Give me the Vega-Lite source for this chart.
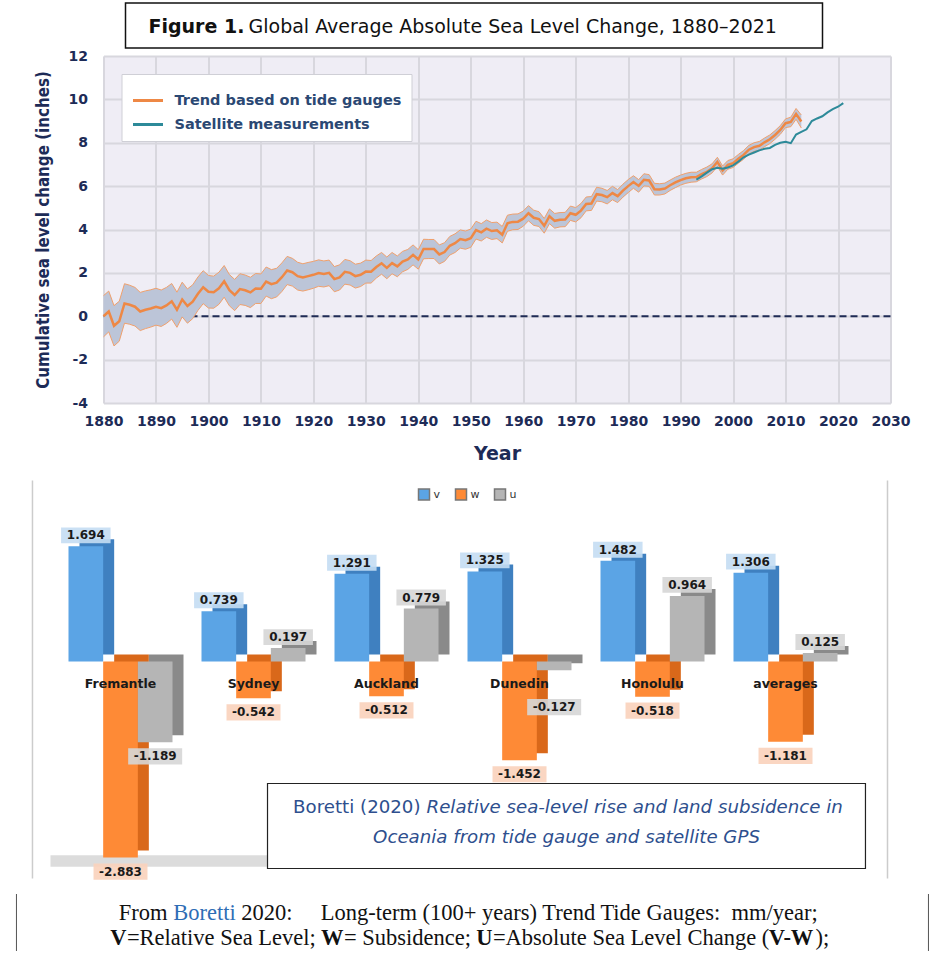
{
  "$schema": "https://vega.github.io/schema/vega-lite/v6.json",
  "padding": {"left": 15.5, "top": 2, "right": 0, "bottom": 0},
  "background": "white",
  "config": {"view": {"stroke": null}, "axis": {"domain": false, "ticks": false}},
  "datasets": {
    "tide": [
      {"year":1880,"value":0,"lower":-0.95,"upper":0.95},
      {"year":1881,"value":0.22,"lower":-0.72,"upper":1.16},
      {"year":1882,"value":-0.44,"lower":-1.37,"upper":0.49},
      {"year":1883,"value":-0.23,"lower":-1.15,"upper":0.69},
      {"year":1884,"value":0.59,"lower":-0.32,"upper":1.5},
      {"year":1885,"value":0.53,"lower":-0.37,"upper":1.43},
      {"year":1886,"value":0.44,"lower":-0.45,"upper":1.33},
      {"year":1887,"value":0.22,"lower":-0.66,"upper":1.1},
      {"year":1888,"value":0.3,"lower":-0.57,"upper":1.17},
      {"year":1889,"value":0.36,"lower":-0.5,"upper":1.22},
      {"year":1890,"value":0.44,"lower":-0.41,"upper":1.29},
      {"year":1891,"value":0.37,"lower":-0.47,"upper":1.21},
      {"year":1892,"value":0.5,"lower":-0.33,"upper":1.33},
      {"year":1893,"value":0.69,"lower":-0.13,"upper":1.51},
      {"year":1894,"value":0.3,"lower":-0.51,"upper":1.11},
      {"year":1895,"value":0.77,"lower":-0.03,"upper":1.57},
      {"year":1896,"value":0.47,"lower":-0.32,"upper":1.26},
      {"year":1897,"value":0.67,"lower":-0.11,"upper":1.45},
      {"year":1898,"value":1.04,"lower":0.27,"upper":1.81},
      {"year":1899,"value":1.34,"lower":0.58,"upper":2.1},
      {"year":1900,"value":1.13,"lower":0.38,"upper":1.88},
      {"year":1901,"value":1.11,"lower":0.37,"upper":1.85},
      {"year":1902,"value":1.29,"lower":0.55,"upper":2.03},
      {"year":1903,"value":1.61,"lower":0.88,"upper":2.34},
      {"year":1904,"value":1.2,"lower":0.48,"upper":1.92},
      {"year":1905,"value":0.98,"lower":0.26,"upper":1.7},
      {"year":1906,"value":1.25,"lower":0.54,"upper":1.96},
      {"year":1907,"value":1.2,"lower":0.5,"upper":1.9},
      {"year":1908,"value":1.1,"lower":0.4,"upper":1.8},
      {"year":1909,"value":1.28,"lower":0.59,"upper":1.97},
      {"year":1910,"value":1.27,"lower":0.59,"upper":1.95},
      {"year":1911,"value":1.6,"lower":0.93,"upper":2.27},
      {"year":1912,"value":1.48,"lower":0.81,"upper":2.15},
      {"year":1913,"value":1.55,"lower":0.89,"upper":2.21},
      {"year":1914,"value":1.8,"lower":1.14,"upper":2.46},
      {"year":1915,"value":2.11,"lower":1.46,"upper":2.76},
      {"year":1916,"value":2.03,"lower":1.39,"upper":2.67},
      {"year":1917,"value":1.85,"lower":1.21,"upper":2.49},
      {"year":1918,"value":1.79,"lower":1.16,"upper":2.42},
      {"year":1919,"value":1.85,"lower":1.22,"upper":2.48},
      {"year":1920,"value":1.91,"lower":1.29,"upper":2.53},
      {"year":1921,"value":1.99,"lower":1.38,"upper":2.6},
      {"year":1922,"value":1.95,"lower":1.35,"upper":2.55},
      {"year":1923,"value":2.0,"lower":1.41,"upper":2.59},
      {"year":1924,"value":1.71,"lower":1.13,"upper":2.29},
      {"year":1925,"value":1.79,"lower":1.21,"upper":2.37},
      {"year":1926,"value":2.05,"lower":1.48,"upper":2.62},
      {"year":1927,"value":2.0,"lower":1.44,"upper":2.56},
      {"year":1928,"value":1.85,"lower":1.3,"upper":2.4},
      {"year":1929,"value":1.91,"lower":1.37,"upper":2.45},
      {"year":1930,"value":2.06,"lower":1.53,"upper":2.59},
      {"year":1931,"value":2.05,"lower":1.53,"upper":2.57},
      {"year":1932,"value":2.27,"lower":1.76,"upper":2.78},
      {"year":1933,"value":2.44,"lower":1.94,"upper":2.94},
      {"year":1934,"value":2.23,"lower":1.73,"upper":2.73},
      {"year":1935,"value":2.45,"lower":1.96,"upper":2.94},
      {"year":1936,"value":2.3,"lower":1.82,"upper":2.78},
      {"year":1937,"value":2.52,"lower":2.05,"upper":2.99},
      {"year":1938,"value":2.62,"lower":2.16,"upper":3.08},
      {"year":1939,"value":2.83,"lower":2.37,"upper":3.29},
      {"year":1940,"value":2.62,"lower":2.17,"upper":3.07},
      {"year":1941,"value":3.1,"lower":2.65,"upper":3.55},
      {"year":1942,"value":3.1,"lower":2.66,"upper":3.54},
      {"year":1943,"value":3.1,"lower":2.66,"upper":3.54},
      {"year":1944,"value":2.85,"lower":2.41,"upper":3.29},
      {"year":1945,"value":2.96,"lower":2.53,"upper":3.39},
      {"year":1946,"value":3.25,"lower":2.82,"upper":3.68},
      {"year":1947,"value":3.37,"lower":2.94,"upper":3.8},
      {"year":1948,"value":3.56,"lower":3.14,"upper":3.98},
      {"year":1949,"value":3.51,"lower":3.09,"upper":3.93},
      {"year":1950,"value":3.6,"lower":3.18,"upper":4.02},
      {"year":1951,"value":3.97,"lower":3.56,"upper":4.38},
      {"year":1952,"value":3.87,"lower":3.47,"upper":4.27},
      {"year":1953,"value":4.04,"lower":3.64,"upper":4.44},
      {"year":1954,"value":3.93,"lower":3.54,"upper":4.32},
      {"year":1955,"value":3.96,"lower":3.58,"upper":4.34},
      {"year":1956,"value":3.76,"lower":3.38,"upper":4.14},
      {"year":1957,"value":4.29,"lower":3.92,"upper":4.66},
      {"year":1958,"value":4.35,"lower":3.99,"upper":4.71},
      {"year":1959,"value":4.36,"lower":4.0,"upper":4.72},
      {"year":1960,"value":4.5,"lower":4.15,"upper":4.85},
      {"year":1961,"value":4.75,"lower":4.4,"upper":5.1},
      {"year":1962,"value":4.54,"lower":4.19,"upper":4.89},
      {"year":1963,"value":4.48,"lower":4.14,"upper":4.82},
      {"year":1964,"value":4.17,"lower":3.83,"upper":4.51},
      {"year":1965,"value":4.61,"lower":4.27,"upper":4.95},
      {"year":1966,"value":4.4,"lower":4.06,"upper":4.74},
      {"year":1967,"value":4.45,"lower":4.12,"upper":4.78},
      {"year":1968,"value":4.46,"lower":4.13,"upper":4.79},
      {"year":1969,"value":4.75,"lower":4.42,"upper":5.08},
      {"year":1970,"value":4.68,"lower":4.35,"upper":5.01},
      {"year":1971,"value":4.87,"lower":4.54,"upper":5.2},
      {"year":1972,"value":5.18,"lower":4.86,"upper":5.5},
      {"year":1973,"value":5.2,"lower":4.88,"upper":5.52},
      {"year":1974,"value":5.63,"lower":5.31,"upper":5.95},
      {"year":1975,"value":5.59,"lower":5.28,"upper":5.9},
      {"year":1976,"value":5.49,"lower":5.18,"upper":5.8},
      {"year":1977,"value":5.68,"lower":5.37,"upper":5.99},
      {"year":1978,"value":5.54,"lower":5.24,"upper":5.84},
      {"year":1979,"value":5.79,"lower":5.49,"upper":6.09},
      {"year":1980,"value":6.0,"lower":5.7,"upper":6.3},
      {"year":1981,"value":6.19,"lower":5.9,"upper":6.48},
      {"year":1982,"value":6.01,"lower":5.72,"upper":6.3},
      {"year":1983,"value":6.29,"lower":6.01,"upper":6.57},
      {"year":1984,"value":6.26,"lower":5.99,"upper":6.53},
      {"year":1985,"value":5.86,"lower":5.59,"upper":6.13},
      {"year":1986,"value":5.85,"lower":5.59,"upper":6.11},
      {"year":1987,"value":5.89,"lower":5.64,"upper":6.14},
      {"year":1988,"value":6.04,"lower":5.8,"upper":6.28},
      {"year":1989,"value":6.17,"lower":5.93,"upper":6.41},
      {"year":1990,"value":6.28,"lower":6.05,"upper":6.51},
      {"year":1991,"value":6.36,"lower":6.13,"upper":6.59},
      {"year":1992,"value":6.41,"lower":6.18,"upper":6.64},
      {"year":1993,"value":6.42,"lower":6.2,"upper":6.64},
      {"year":1994,"value":6.55,"lower":6.33,"upper":6.77},
      {"year":1995,"value":6.66,"lower":6.44,"upper":6.88},
      {"year":1996,"value":6.82,"lower":6.61,"upper":7.03},
      {"year":1997,"value":7.12,"lower":6.91,"upper":7.33},
      {"year":1998,"value":6.72,"lower":6.51,"upper":6.93},
      {"year":1999,"value":6.98,"lower":6.78,"upper":7.18},
      {"year":2000,"value":7.06,"lower":6.86,"upper":7.26},
      {"year":2001,"value":7.26,"lower":7.06,"upper":7.46},
      {"year":2002,"value":7.44,"lower":7.24,"upper":7.64},
      {"year":2003,"value":7.68,"lower":7.48,"upper":7.88},
      {"year":2004,"value":7.8,"lower":7.6,"upper":8.0},
      {"year":2005,"value":7.86,"lower":7.66,"upper":8.06},
      {"year":2006,"value":8.02,"lower":7.82,"upper":8.22},
      {"year":2007,"value":8.16,"lower":7.96,"upper":8.36},
      {"year":2008,"value":8.36,"lower":8.16,"upper":8.56},
      {"year":2009,"value":8.59,"lower":8.39,"upper":8.79},
      {"year":2010,"value":8.9,"lower":8.7,"upper":9.1},
      {"year":2011,"value":8.96,"lower":8.74,"upper":9.18},
      {"year":2012,"value":9.33,"lower":9.08,"upper":9.58},
      {"year":2013,"value":8.98,"lower":8.68,"upper":9.28}
    ],
    "sat": [
      {"year":1993,"value":6.3},{"year":1994,"value":6.45},{"year":1995,"value":6.62},
      {"year":1996,"value":6.78},{"year":1997,"value":6.85},{"year":1998,"value":6.8},
      {"year":1999,"value":6.86},{"year":2000,"value":6.96},{"year":2001,"value":7.13},
      {"year":2002,"value":7.33},{"year":2003,"value":7.45},{"year":2004,"value":7.55},
      {"year":2005,"value":7.65},{"year":2006,"value":7.72},{"year":2007,"value":7.76},
      {"year":2008,"value":7.9},{"year":2009,"value":8.0},{"year":2010,"value":8.05},
      {"year":2011,"value":7.98},{"year":2012,"value":8.38},{"year":2013,"value":8.5},
      {"year":2014,"value":8.62},{"year":2015,"value":9.0},{"year":2016,"value":9.12},
      {"year":2017,"value":9.22},{"year":2018,"value":9.4},{"year":2019,"value":9.55},
      {"year":2020,"value":9.66},{"year":2021,"value":9.83}
    ],
    "bars": [
      {"city":"Fremantle","series":"v","value":1.694},
      {"city":"Fremantle","series":"w","value":-2.883},
      {"city":"Fremantle","series":"u","value":-1.189},
      {"city":"Sydney","series":"v","value":0.739},
      {"city":"Sydney","series":"w","value":-0.542},
      {"city":"Sydney","series":"u","value":0.197},
      {"city":"Auckland","series":"v","value":1.291},
      {"city":"Auckland","series":"w","value":-0.512},
      {"city":"Auckland","series":"u","value":0.779},
      {"city":"Dunedin","series":"v","value":1.325},
      {"city":"Dunedin","series":"w","value":-1.452},
      {"city":"Dunedin","series":"u","value":-0.127},
      {"city":"Honolulu","series":"v","value":1.482},
      {"city":"Honolulu","series":"w","value":-0.518},
      {"city":"Honolulu","series":"u","value":0.964},
      {"city":"averages","series":"v","value":1.306},
      {"city":"averages","series":"w","value":-1.181},
      {"city":"averages","series":"u","value":0.125}
    ]
  },
  "resolve": {"scale": {"color": "independent", "fill": "independent"}, "legend": {"color": "independent"}},
  "align": "each",
  "center": false,
  "spacing": 0,
  "vconcat": [
    {
      "width": 719,
      "height": 45,
      "data": {"values": [{}]},
      "layer": [
        {
          "mark": {"type": "rect", "fill": "white", "stroke": "#111111", "strokeWidth": 1.5},
          "encoding": {
            "x": {"datum": 0.0306, "type": "quantitative", "scale": {"domain": [0, 1]}, "axis": null},
            "x2": {"datum": 1},
            "y": {"datum": 0, "type": "quantitative", "scale": {"domain": [0, 1]}, "axis": null},
            "y2": {"datum": 1}
          }
        },
        {"mark": {"type": "text", "text": "Figure 1.", "align": "left", "baseline": "middle", "dx": -314.5, "dy": 1.5, "font": "DejaVu Sans", "fontWeight": "bold", "fontSize": 19, "color": "#111111"}},
        {"mark": {"type": "text", "text": "Global Average Absolute Sea Level Change, 1880–2021", "align": "left", "baseline": "middle", "dx": -214.5, "dy": 1.5, "font": "DejaVu Sans", "fontSize": 19, "color": "#111111"}}
      ]
    },
    {
      "width": 787,
      "height": 347,
      "view": {"fill": "#efedf5", "stroke": null},
      "layer": [
        {
          "data": {"values": [{}]},
          "mark": {"type": "rule", "color": "#1f2b55", "strokeWidth": 2, "strokeDash": [7, 4]},
          "encoding": {"y": {"datum": 0, "type": "quantitative", "scale": {"domain": [-4, 12], "nice": false}}}
        },
        {
          "data": {"name": "tide"},
          "mark": {"type": "area", "color": "#bcc5d8"},
          "encoding": {
            "x": {"field": "year", "type": "quantitative", "title": "Year",
              "scale": {"domain": [1880, 2030], "nice": false, "zero": false},
              "axis": {"values": [1880,1890,1900,1910,1920,1930,1940,1950,1960,1970,1980,1990,2000,2010,2020,2030], "format": "d", "grid": true, "gridColor": "#d8d7de", "gridWidth": 2, "labelFont": "DejaVu Sans", "labelFontWeight": "bold", "labelFontSize": 14, "labelColor": "#1d2b57", "labelPadding": 11, "labelFlush": false, "titleFont": "DejaVu Sans", "titleFontWeight": "bold", "titleFontSize": 19, "titleColor": "#1d2b57", "titlePadding": 16}},
            "y": {"field": "lower", "type": "quantitative", "title": "Cumulative sea level change (inches)",
              "scale": {"domain": [-4, 12], "nice": false},
              "axis": {"values": [-4,-2,0,2,4,6,8,10,12], "labelExpr": "datum.value", "grid": true, "gridColor": "#d8d7de", "gridWidth": 2, "labelFont": "DejaVu Sans", "labelFontWeight": "bold", "labelFontSize": 14, "labelColor": "#1d2b57", "labelPadding": 16, "titleFont": "DejaVu Sans Condensed", "titleFontWeight": "bold", "titleFontSize": 16.8, "titleColor": "#1d2b57", "titlePadding": 16}},
            "y2": {"field": "upper"}
          }
        },
        {
          "data": {"name": "tide"},
          "mark": {"type": "line", "color": "#f0a06c", "strokeWidth": 1},
          "encoding": {
            "x": {"field": "year", "type": "quantitative", "title": "Year"},
            "y": {"field": "lower", "type": "quantitative", "title": "Cumulative sea level change (inches)"}
          }
        },
        {
          "data": {"name": "tide"},
          "mark": {"type": "line", "color": "#f0a06c", "strokeWidth": 1},
          "encoding": {
            "x": {"field": "year", "type": "quantitative", "title": "Year"},
            "y": {"field": "upper", "type": "quantitative", "title": "Cumulative sea level change (inches)"}
          }
        },
        {
          "data": {"name": "tide"},
          "mark": {"type": "line", "strokeWidth": 2.5},
          "encoding": {
            "x": {"field": "year", "type": "quantitative", "title": "Year"},
            "y": {"field": "value", "type": "quantitative", "title": "Cumulative sea level change (inches)"},
            "color": {"datum": "Trend based on tide gauges",
              "scale": {"domain": ["Trend based on tide gauges", "Satellite measurements"], "range": ["#ee8845", "#2d8a99"]},
              "legend": {"orient": "top-left", "offset": 18, "direction": "vertical", "title": null, "fillColor": "white", "strokeColor": "#cfcfd6", "padding": 10, "symbolType": "stroke", "symbolSize": 900, "symbolStrokeWidth": 3, "labelFont": "DejaVu Sans", "labelFontWeight": "bold", "labelFontSize": 14.5, "labelColor": "#2b4873", "labelOffset": 10, "labelLimit": 400, "rowPadding": 1}}
          }
        },
        {
          "data": {"name": "sat"},
          "mark": {"type": "line", "strokeWidth": 2},
          "encoding": {
            "x": {"field": "year", "type": "quantitative", "title": "Year"},
            "y": {"field": "value", "type": "quantitative", "title": "Cumulative sea level change (inches)"},
            "color": {"datum": "Satellite measurements"}
          }
        }
      ]
    },
    {
      "width": 784,
      "height": 413,
      "resolve": {"scale": {"x": "independent", "xOffset": "independent", "fill": "independent"}},
      "layer": [
        {
          "data": {"values": [{}]},
          "layer": [
            {
              "mark": {"type": "rect", "color": "#dcdcdc"},
              "encoding": {
                "x": {"datum": -0.0676, "type": "quantitative", "scale": {"domain": [0, 1]}, "axis": null},
                "x2": {"datum": 0.25},
                "y": {"datum": -2.85, "type": "quantitative", "scale": {"domain": [-3.15, 2.35], "range": [412.7, 38.7], "nice": false, "zero": false}, "axis": null},
                "y2": {"datum": -3.02}
              }
            },
            {
              "mark": {"type": "rule", "color": "#cccccc", "strokeWidth": 1.5},
              "encoding": {
                "x": {"datum": -0.0906, "type": "quantitative", "scale": {"domain": [0, 1]}, "axis": null},
                "y": {"datum": 2.66, "type": "quantitative", "scale": {"domain": [-3.15, 2.35], "range": [412.7, 38.7], "nice": false, "zero": false}, "axis": null},
                "y2": {"datum": -3.19}
              }
            },
            {
              "mark": {"type": "rule", "color": "#cccccc", "strokeWidth": 1.5},
              "encoding": {
                "x": {"datum": 1, "type": "quantitative", "scale": {"domain": [0, 1]}, "axis": null},
                "y": {"datum": 2.66, "type": "quantitative", "scale": {"domain": [-3.15, 2.35], "range": [412.7, 38.7], "nice": false, "zero": false}, "axis": null},
                "y2": {"datum": -3.19}
              }
            }
          ]
        },
        {
          "data": {"name": "bars"},
          "mark": {"type": "bar", "yOffset": -7, "y2Offset": -7},
          "encoding": {
            "x": {"field": "city", "type": "nominal", "sort": ["Fremantle","Sydney","Auckland","Dunedin","Honolulu","averages"],
              "scale": {"domain": ["Fremantle","Sydney","Auckland","Dunedin","Honolulu","averages"], "range": [-24, 745], "paddingInner": 0.218, "paddingOuter": 0}, "axis": null},
            "xOffset": {"field": "series", "type": "nominal", "sort": ["v","w","u"], "scale": {"domain": ["v","w","u"], "paddingInner": 0, "paddingOuter": 0}},
            "y": {"field": "value", "type": "quantitative", "scale": {"domain": [-3.15, 2.35], "range": [412.7, 38.7], "nice": false, "zero": false}, "axis": null},
            "fill": {"field": "series", "type": "nominal", "scale": {"domain": ["v","w","u"], "range": ["#3f80c0", "#d9681a", "#8a8a8a"]}, "legend": null}
          }
        },
        {
          "data": {"name": "bars"},
          "encoding": {
            "x": {"field": "city", "type": "nominal", "sort": ["Fremantle","Sydney","Auckland","Dunedin","Honolulu","averages"],
              "scale": {"domain": ["Fremantle","Sydney","Auckland","Dunedin","Honolulu","averages"], "range": [-35, 734], "paddingInner": 0.218, "paddingOuter": 0}, "axis": null},
            "xOffset": {"field": "series", "type": "nominal", "sort": ["v","w","u"], "scale": {"domain": ["v","w","u"], "paddingInner": 0, "paddingOuter": 0}},
            "y": {"field": "value", "type": "quantitative", "scale": {"domain": [-3.15, 2.35], "range": [412.7, 38.7], "nice": false, "zero": false}, "axis": null}
          },
          "layer": [
            {
              "mark": {"type": "bar"},
              "encoding": {
                "color": {"field": "series", "type": "nominal", "scale": {"domain": ["v","w","u"], "range": ["#5ba4e5", "#fe8a36", "#b5b5b5"]},
                  "legend": {"orient": "none", "legendX": 314, "legendY": 25, "direction": "horizontal", "title": null, "symbolType": "square", "symbolSize": 121, "symbolStrokeColor": "#777777", "labelFont": "DejaVu Sans", "labelFontSize": 11, "labelColor": "#333333", "labelOffset": 3, "columnPadding": 12}}
              }
            },
            {
              "transform": [{"filter": "datum.value > 0"}],
              "mark": {"type": "point", "shape": "M-1,-0.32L1,-0.32L1,0.32L-1,0.32Z", "filled": true, "size": 2450, "yOffset": -11, "xOffset": 3, "opacity": 0.9},
              "encoding": {
                "fill": {"field": "series", "type": "nominal", "scale": {"domain": ["v","w","u"], "range": ["#c4ddf3", "#f9d2bb", "#d6d6d6"]}, "legend": null}
              }
            },
            {
              "transform": [{"filter": "datum.value < 0 && !(datum.city === 'Dunedin' && datum.series === 'u')"}],
              "mark": {"type": "point", "shape": "M-1,-0.3L1,-0.3L1,0.3L-1,0.3Z", "filled": true, "size": 2916, "yOffset": 14, "xOffset": 3, "opacity": 0.9},
              "encoding": {
                "fill": {"field": "series", "type": "nominal", "scale": {"domain": ["v","w","u"], "range": ["#c4ddf3", "#f9d2bb", "#d6d6d6"]}, "legend": null}
              }
            },
            {
              "transform": [{"filter": "datum.city === 'Dunedin' && datum.series === 'u'"}],
              "mark": {"type": "point", "shape": "M-1,-0.3L1,-0.3L1,0.3L-1,0.3Z", "filled": true, "size": 2916, "yOffset": 37, "xOffset": 14, "opacity": 0.9},
              "encoding": {
                "fill": {"field": "series", "type": "nominal", "scale": {"domain": ["v","w","u"], "range": ["#c4ddf3", "#f9d2bb", "#d6d6d6"]}, "legend": null}
              }
            },
            {
              "transform": [{"filter": "datum.value > 0"}],
              "mark": {"type": "text", "font": "DejaVu Sans", "fontWeight": "bold", "fontSize": 12, "color": "#1a1a1a", "baseline": "middle", "yOffset": -11, "xOffset": 3},
              "encoding": {"text": {"field": "value", "type": "nominal"}}
            },
            {
              "transform": [{"filter": "datum.value < 0 && !(datum.city === 'Dunedin' && datum.series === 'u')"}],
              "mark": {"type": "text", "font": "DejaVu Sans", "fontWeight": "bold", "fontSize": 12, "color": "#1a1a1a", "baseline": "middle", "yOffset": 14, "xOffset": 3},
              "encoding": {"text": {"field": "value", "type": "nominal"}}
            },
            {
              "transform": [{"filter": "datum.city === 'Dunedin' && datum.series === 'u'"}],
              "mark": {"type": "text", "font": "DejaVu Sans", "fontWeight": "bold", "fontSize": 12, "color": "#1a1a1a", "baseline": "middle", "yOffset": 37, "xOffset": 14},
              "encoding": {"text": {"field": "value", "type": "nominal"}}
            },
            {
              "transform": [{"filter": "datum.series === 'v'"}],
              "mark": {"type": "text", "font": "DejaVu Sans", "fontWeight": "bold", "fontSize": 12.5, "color": "#1a1a1a", "baseline": "middle", "dy": 22},
              "encoding": {
                "xOffset": null,
                "y": {"datum": 0, "type": "quantitative"},
                "text": {"field": "city", "type": "nominal"}
              }
            }
          ]
        },
        {
          "data": {"values": [{}]},
          "layer": [
            {
              "mark": {"type": "rect", "fill": "white", "stroke": "#222222", "strokeWidth": 1.2},
              "encoding": {
                "x": {"datum": 0.2092, "type": "quantitative", "scale": {"domain": [0, 1]}, "axis": null},
                "x2": {"datum": 0.9719},
                "y": {"datum": -1.794, "type": "quantitative", "scale": {"domain": [-3.15, 2.35], "range": [412.7, 38.7], "nice": false, "zero": false}, "axis": null},
                "y2": {"datum": -3.044}
              }
            },
            {
              "mark": {"type": "text", "text": "Boretti (2020)", "align": "right", "baseline": "middle", "dx": -3, "font": "DejaVu Sans", "fontSize": 18.2, "color": "#2e4f8e"},
              "encoding": {
                "x": {"datum": 0.4082, "type": "quantitative", "scale": {"domain": [0, 1]}},
                "y": {"datum": -2.16, "type": "quantitative"}
              }
            },
            {
              "mark": {"type": "text", "text": "Relative sea-level rise and land subsidence in", "align": "left", "baseline": "middle", "dx": 3, "font": "DejaVu Sans", "fontStyle": "italic", "fontSize": 18.2, "color": "#2e4f8e"},
              "encoding": {
                "x": {"datum": 0.4082, "type": "quantitative", "scale": {"domain": [0, 1]}},
                "y": {"datum": -2.16, "type": "quantitative"}
              }
            },
            {
              "mark": {"type": "text", "text": "Oceania from tide gauge and satellite GPS", "align": "center", "baseline": "middle", "font": "DejaVu Sans", "fontStyle": "italic", "fontSize": 18.2, "color": "#2e4f8e"},
              "encoding": {
                "x": {"datum": 0.5906, "type": "quantitative", "scale": {"domain": [0, 1]}},
                "y": {"datum": -2.59, "type": "quantitative"}
              }
            }
          ]
        }
      ]
    },
    {
      "width": 732,
      "height": 77,
      "data": {"values": [{}]},
      "layer": [
        {"mark": {"type": "rule", "color": "#555555", "strokeWidth": 1},
         "encoding": {"x": {"datum": -0.1189, "type": "quantitative", "scale": {"domain": [0, 1]}, "axis": null},
                      "y": {"datum": 0.818, "type": "quantitative", "scale": {"domain": [0, 1]}, "axis": null}, "y2": {"datum": 0.078}}},
        {"mark": {"type": "rule", "color": "#555555", "strokeWidth": 1},
         "encoding": {"x": {"datum": 1.127, "type": "quantitative", "scale": {"domain": [0, 1]}, "axis": null},
                      "y": {"datum": 0.818, "type": "quantitative", "scale": {"domain": [0, 1]}, "axis": null}, "y2": {"datum": 0.078}}},
        {"mark": {"type": "text", "text": "From", "align": "left", "baseline": "middle", "dx": -350.7, "dy": -6, "font": "Liberation Serif", "fontSize": 22.5, "color": "#111111"}},
        {"mark": {"type": "text", "text": "Boretti", "align": "left", "baseline": "middle", "dx": -296.3, "dy": -6, "font": "Liberation Serif", "fontSize": 22.5, "color": "#2e6db5"}},
        {"mark": {"type": "text", "text": "2020:\u00a0\u00a0\u00a0\u00a0\u00a0Long-term (100+ years) Trend Tide Gauges:\u00a0\u00a0mm/year;", "align": "left", "baseline": "middle", "dx": -228.2, "dy": -6, "font": "Liberation Serif", "fontSize": 22.5, "color": "#111111"}},
        {"mark": {"type": "text", "text": "V", "align": "left", "baseline": "middle", "dx": -359.3, "dy": 19, "font": "Liberation Serif", "fontWeight": "bold", "fontSize": 22.5, "color": "#111111"}},
        {"mark": {"type": "text", "text": "=Relative Sea Level;", "align": "left", "baseline": "middle", "dx": -342.6, "dy": 19, "font": "Liberation Serif", "fontSize": 22.5, "color": "#111111"}},
        {"mark": {"type": "text", "text": "W", "align": "left", "baseline": "middle", "dx": -148.5, "dy": 19, "font": "Liberation Serif", "fontWeight": "bold", "fontSize": 22.5, "color": "#111111"}},
        {"mark": {"type": "text", "text": "= Subsidence;", "align": "left", "baseline": "middle", "dx": -125.5, "dy": 19, "font": "Liberation Serif", "fontSize": 22.5, "color": "#111111"}},
        {"mark": {"type": "text", "text": "U", "align": "left", "baseline": "middle", "dx": 6.7, "dy": 19, "font": "Liberation Serif", "fontWeight": "bold", "fontSize": 22.5, "color": "#111111"}},
        {"mark": {"type": "text", "text": "=Absolute Sea Level Change (", "align": "left", "baseline": "middle", "dx": 23.4, "dy": 19, "font": "Liberation Serif", "fontSize": 22.5, "color": "#111111"}},
        {"mark": {"type": "text", "text": "V-W", "align": "left", "baseline": "middle", "dx": 299.3, "dy": 19, "font": "Liberation Serif", "fontWeight": "bold", "fontSize": 22.5, "color": "#111111"}},
        {"mark": {"type": "text", "text": ");", "align": "left", "baseline": "middle", "dx": 346, "dy": 19, "font": "Liberation Serif", "fontSize": 22.5, "color": "#111111"}}
      ]
    }
  ]
}
